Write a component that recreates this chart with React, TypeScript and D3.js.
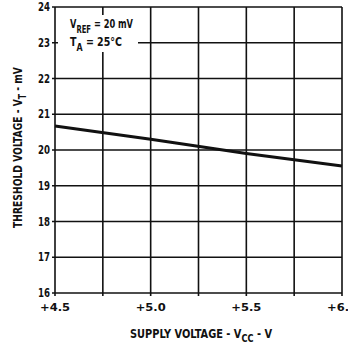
import React from "react";
import * as d3 from "d3";

// supply voltage (V) vs threshold voltage (mV)
const supplyV = [4.5, 5.0, 5.5, 6.0];
const thresholdMv = [20.67, 20.3, 19.9, 19.55];
const xTicks = [4.5, 5.0, 5.5, 6.0];
const xTickLabels = ["+4.5", "+5.0", "+5.5", "+6.0"];
const xGrid = [4.5, 4.75, 5.0, 5.25, 5.5, 5.75, 6.0];
const yTicks = [16, 17, 18, 19, 20, 21, 22, 23, 24];

const W = 348;
const H = 347;
const margin = { top: 7, right: 6, bottom: 54, left: 55 };
const FONT = "'DejaVu Sans Condensed', 'Liberation Sans Narrow', 'DejaVu Sans', sans-serif";

export default function App() {
  const x = d3
    .scaleLinear()
    .domain([4.5, 6.0])
    .range([margin.left, W - margin.right]);
  const y = d3
    .scaleLinear()
    .domain([16, 24])
    .range([H - margin.bottom, margin.top]);

  const line = d3
    .line<number>()
    .x((_, i) => x(supplyV[i]))
    .y((d) => y(d))
    .curve(d3.curveMonotoneX);

  const ink = "#111";

  return (
    <svg
      width={W}
      height={H}
      style={{ position: "absolute", left: 0, top: 0, background: "#fff" }}
      fontFamily={FONT}
      fontWeight="bold"
    >
      {/* grid + small outside ticks */}
      {yTicks.map((t) => (
        <line
          key={"h" + t}
          x1={x(4.5) - 3}
          x2={x(6.0)}
          y1={y(t)}
          y2={y(t)}
          stroke={ink}
          strokeWidth={1.6}
        />
      ))}
      {xGrid.map((t) => (
        <line
          key={"v" + t}
          x1={x(t)}
          x2={x(t)}
          y1={y(16) + 3}
          y2={y(24)}
          stroke={ink}
          strokeWidth={1.6}
        />
      ))}

      {/* annotation box */}
      <rect x={58} y={15} width={80} height={37} fill="#fff" />
      <text
        x={70}
        y={28}
        fontSize={12}
        fill={ink}
        textLength={63}
        lengthAdjust="spacingAndGlyphs"
      >
        V<tspan fontSize={10} dy={5}>REF</tspan>
        <tspan dy={-5}> = 20 mV</tspan>
      </text>
      <text
        x={70}
        y={46}
        fontSize={12}
        fill={ink}
        textLength={52}
        lengthAdjust="spacingAndGlyphs"
      >
        T<tspan fontSize={10} dy={5}>A</tspan>
        <tspan dy={-5}> = 25°C</tspan>
      </text>

      {/* data */}
      <path
        d={line(thresholdMv) ?? ""}
        fill="none"
        stroke={ink}
        strokeWidth={3}
      />

      {/* y tick labels */}
      {yTicks.map((t) => (
        <text
          key={"yl" + t}
          x={margin.left - 17}
          y={y(t) + 4}
          fontSize={12}
          fill={ink}
          textLength={12}
          lengthAdjust="spacingAndGlyphs"
        >
          {t}
        </text>
      ))}

      {/* x tick labels */}
      {xTicks.map((t, i) => (
        <text
          key={"xl" + t}
          x={x(t) - 15}
          y={311}
          fontSize={11}
          fill={ink}
          textLength={30}
          lengthAdjust="spacingAndGlyphs"
        >
          {xTickLabels[i]}
        </text>
      ))}

      {/* axis titles */}
      <text
        x={130}
        y={338}
        fontSize={12}
        fill={ink}
        textLength={142}
        lengthAdjust="spacingAndGlyphs"
      >
        SUPPLY VOLTAGE - V<tspan fontSize={10} dy={4}>CC</tspan>
        <tspan dy={-4}> - V</tspan>
      </text>
      <text
        transform={`translate(22,228) rotate(-90)`}
        fontSize={12}
        fill={ink}
        textLength={161}
        lengthAdjust="spacingAndGlyphs"
      >
        THRESHOLD VOLTAGE - V<tspan fontSize={10} dy={4}>T</tspan>
        <tspan dy={-4}> - mV</tspan>
      </text>
    </svg>
  );
}
